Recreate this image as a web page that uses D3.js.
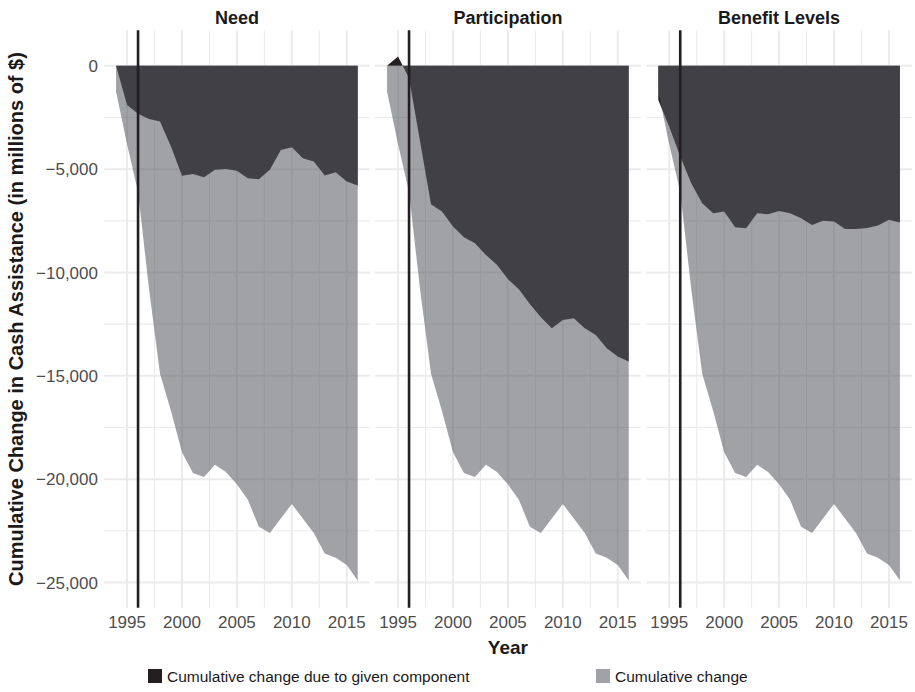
<!DOCTYPE html>
<html>
<head>
<meta charset="utf-8">
<script src="https://cdn.jsdelivr.net/npm/d3@7/dist/d3.min.js"></script>
<style>
  html, body { margin: 0; padding: 0; background: #ffffff; }
  svg { display: block; font-family: "Liberation Sans", Arial, Helvetica, sans-serif; }
</style>
</head>
<body>
<svg id="chart" width="915" height="692"></svg>
<script>
// Fiscal years covered by the decomposition
const years = [1994, 1995, 1996, 1997, 1998, 1999, 2000, 2001, 2002, 2003, 2004, 2005,
               2006, 2007, 2008, 2009, 2010, 2011, 2012, 2013, 2014, 2015, 2016];

// Total cumulative change in cash assistance (millions of $), same in every panel
const totalChange = [-1250, -3800, -6100, -10800, -14900, -16700, -18700, -19700, -19900, -19300,
                     -19650, -20250, -21000, -22300, -22600, -21900, -21200, -21900, -22600,
                     -23600, -23800, -24150, -24900];

// Cumulative change attributable to each component (millions of $)
const needComponent = [0, -1890, -2320, -2570, -2690, -3900, -5320, -5230, -5390, -5030,
                       -4990, -5080, -5440, -5490, -5030, -4070, -3940, -4470, -4630,
                       -5310, -5150, -5600, -5790];
const participationComponent = [0, 450, -600, -3650, -6700, -7050, -7780, -8300, -8580, -9150,
                                 -9630, -10320, -10810, -11520, -12160, -12700, -12300, -12210,
                                 -12700, -13020, -13660, -14070, -14310];
const benefitComponent = [-1650, -2950, -4390, -5680, -6650, -7130, -7050, -7810, -7860, -7130,
                          -7180, -7020, -7130, -7370, -7700, -7500, -7530, -7900, -7900,
                          -7850, -7730, -7450, -7580];

const panelTitles = ["Need", "Participation", "Benefit Levels"];
const panelComponents = [needComponent, participationComponent, benefitComponent];

const xTicks = [1995, 2000, 2005, 2010, 2015];
const xMinorTicks = [1997.5, 2002.5, 2007.5, 2012.5];
const yTicks = [0, -5000, -10000, -15000, -20000, -25000];
const yMinorTicks = [-2500, -7500, -12500, -17500, -22500];
const reformYear = 1996;

const legendLabels = ["Cumulative change due to given component", "Cumulative change"];

// Layout
const panelLeft = [104, 375, 646.2];
const panelWidth = 265.8;
const panelTop = 30.3, panelBottom = 607.8;

const darkFill = "#231f20";
const greyFill = "#595b5f";
const greyOpacity = 0.565;
const gridColor = "#ebebeb";

const svg = d3.select("#chart");

const x = d3.scaleLinear().domain([1992.9, 2017.1]).range([0, panelWidth]);
const y = d3.scaleLinear().domain([-26225, 1720]).range([panelBottom, panelTop]);

const fmt = v => (v < 0 ? "\u2212" : "") + d3.format(",")(Math.abs(v));

panelTitles.forEach((title, i) => {
  const g = svg.append("g").attr("transform", `translate(${panelLeft[i]},0)`);

  // grid: minor first, then major
  g.selectAll(".ygm").data(yMinorTicks).join("line")
    .attr("x1", 0).attr("x2", panelWidth)
    .attr("y1", d => y(d)).attr("y2", d => y(d))
    .attr("stroke", gridColor).attr("stroke-width", 1.1);
  g.selectAll(".xgm").data(xMinorTicks).join("line")
    .attr("x1", d => x(d)).attr("x2", d => x(d))
    .attr("y1", panelTop).attr("y2", panelBottom)
    .attr("stroke", gridColor).attr("stroke-width", 1.1);
  g.selectAll(".ygM").data(yTicks).join("line")
    .attr("x1", 0).attr("x2", panelWidth)
    .attr("y1", d => y(d)).attr("y2", d => y(d))
    .attr("stroke", gridColor).attr("stroke-width", 2);
  g.selectAll(".xgM").data(xTicks).join("line")
    .attr("x1", d => x(d)).attr("x2", d => x(d))
    .attr("y1", panelTop).attr("y2", panelBottom)
    .attr("stroke", gridColor).attr("stroke-width", 2);

  const comp = panelComponents[i];

  // component area (opaque dark)
  const areaComp = d3.area()
    .x((d, k) => x(years[k]))
    .y0(y(0))
    .y1(d => y(d));
  g.append("path").datum(comp)
    .attr("d", areaComp)
    .attr("fill", darkFill);

  // total cumulative change (translucent grey on top)
  const areaTotal = d3.area()
    .x((d, k) => x(years[k]))
    .y0(y(0))
    .y1(d => y(d));
  g.append("path").datum(totalChange)
    .attr("d", areaTotal)
    .attr("fill", greyFill)
    .attr("fill-opacity", greyOpacity);

  // welfare reform marker
  g.append("line")
    .attr("x1", x(reformYear)).attr("x2", x(reformYear))
    .attr("y1", panelTop).attr("y2", panelBottom)
    .attr("stroke", darkFill).attr("stroke-width", 2.6);

  // strip title
  g.append("text")
    .attr("x", panelWidth / 2).attr("y", 23.5)
    .attr("text-anchor", "middle")
    .attr("font-size", 18).attr("font-weight", "bold")
    .attr("fill", "#1a1a1a")
    .text(title);

  // x axis labels
  g.selectAll(".xl").data(xTicks).join("text")
    .attr("x", d => x(d)).attr("y", 628)
    .attr("text-anchor", "middle")
    .attr("font-size", 17)
    .attr("fill", "#4d4d4d")
    .text(d => d);
});

// y axis labels
svg.selectAll(".yl").data(yTicks).join("text")
  .attr("x", 98).attr("y", d => y(d) + 6.1)
  .attr("text-anchor", "end")
  .attr("font-size", 17)
  .attr("fill", "#4d4d4d")
  .text(d => fmt(d));

// axis titles
svg.append("text")
  .attr("transform", `translate(23,${(panelTop + panelBottom) / 2}) rotate(-90)`)
  .attr("text-anchor", "middle")
  .attr("font-size", 20).attr("font-weight", "bold")
  .attr("fill", "#1a1a1a")
  .text("Cumulative Change in Cash Assistance (in millions of $)");

svg.append("text")
  .attr("x", panelLeft[1] + panelWidth / 2).attr("y", 653.5)
  .attr("text-anchor", "middle")
  .attr("font-size", 19).attr("font-weight", "bold")
  .attr("fill", "#1a1a1a")
  .text("Year");

// legend
const legendItems = [
  { label: legendLabels[0], fill: darkFill, opacity: 1, x: 148 },
  { label: legendLabels[1], fill: greyFill, opacity: greyOpacity, x: 596 }
];
const lg = svg.append("g");
legendItems.forEach(it => {
  lg.append("rect")
    .attr("x", it.x).attr("y", 669).attr("width", 14).attr("height", 14)
    .attr("fill", it.fill).attr("fill-opacity", it.opacity);
  lg.append("text")
    .attr("x", it.x + 19).attr("y", 681.5)
    .attr("font-size", 15.5)
    .attr("fill", "#1a1a1a")
    .text(it.label);
});
</script>
</body>
</html>
